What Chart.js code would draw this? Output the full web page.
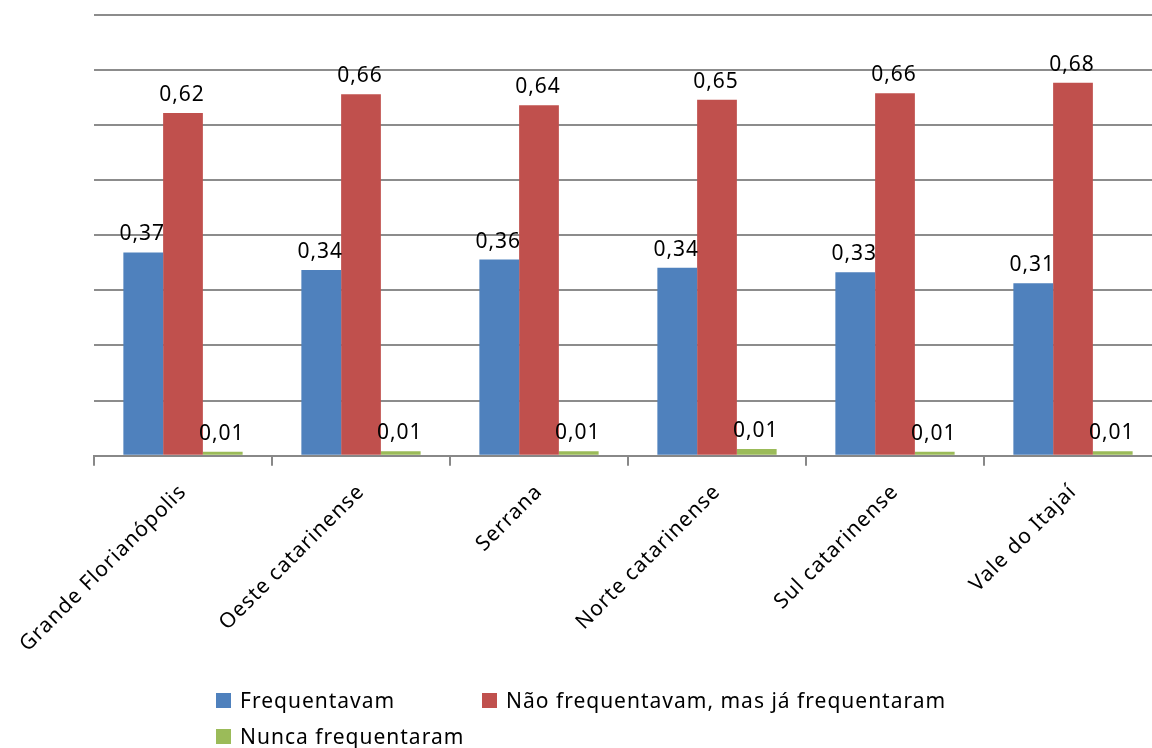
<!DOCTYPE html>
<html>
    <head>
        <meta charset="utf-8">
        <script src="https://cdn.jsdelivr.net/npm/chart.js@4.4.1/dist/chart.umd.min.js"></script>
        <style>
            body { margin: 0; overflow: hidden; background: #fff; font-family: "Noto Sans", sans-serif; }
            #wrap { position: absolute; left: 0; top: 0; width: 1170px; height: 748px; }
            #legend { position: absolute; left: 216px; top: 688px; font-size: 21px; letter-spacing: 1px; color: #000; width: 900px; }
            .item { position: absolute; white-space: nowrap; display: flex; align-items: center; height: 24px; line-height: 24px; }
            .box { display: inline-block; width: 15px; height: 15px; margin-right: 9px; }
        </style>
    </head>
    <body>
        <div id="wrap">
            <canvas id="myChart" width="1170" height="748"></canvas>
        </div>
        <div id="legend"></div>

        <script>
            const CATEGORIES = ['Grande Florianópolis', 'Oeste catarinense', 'Serrana', 'Norte catarinense', 'Sul catarinense', 'Vale do Itajaí'];
            const SERIES_NAMES = ['Frequentavam', 'Não frequentavam, mas já frequentaram', 'Nunca frequentaram'];
            const FREQUENTAVAM = [0.369, 0.337, 0.356, 0.341, 0.333, 0.313];
            const NAO_FREQUENTAVAM = [0.622, 0.656, 0.636, 0.646, 0.658, 0.677];
            const NUNCA = [0.007, 0.008, 0.008, 0.012, 0.007, 0.008];
            const COLORS = ['#4F81BD', '#C0504D', '#9BBB59'];

            const FONT = '"Noto Sans", sans-serif';

            // the original text is a bit spaced out
            const spacing = {
                id: 'spacing',
                beforeLayout(chart) { chart.ctx.letterSpacing = '1px'; },
                beforeDraw(chart) { chart.ctx.letterSpacing = '1px'; }
            };

            // value labels above each bar, with a decimal comma
            const valueLabels = {
                id: 'valueLabels',
                afterDatasetsDraw(chart) {
                    const ctx = chart.ctx;
                    ctx.save();
                    ctx.font = '21px ' + FONT;
                    ctx.letterSpacing = '1px';
                    ctx.fillStyle = '#000';
                    ctx.textAlign = 'center';
                    ctx.textBaseline = 'alphabetic';
                    chart.data.datasets.forEach((ds, i) => {
                        chart.getDatasetMeta(i).data.forEach((bar, j) => {
                            let txt = ds.data[j].toFixed(2).replace('.', ',');
                            ctx.fillText(txt, bar.x - 1, bar.y - 12);
                        });
                    });
                    ctx.restore();
                }
            };

            const seriesData = [FREQUENTAVAM, NAO_FREQUENTAVAM, NUNCA];

            let chart = new Chart(document.getElementById('myChart'), {
                type: 'bar',
                data: {
                    labels: CATEGORIES,
                    datasets: SERIES_NAMES.map((name, i) => ({
                        label: name,
                        data: seriesData[i],
                        backgroundColor: COLORS[i],
                        categoryPercentage: 0.67,
                        barPercentage: 1.0,
                    })),
                },
                options: {
                    responsive: false,
                    animation: false,
                    layout: { padding: { left: 94, right: 8, top: 15, bottom: 77 } },
                    plugins: {
                        legend: { display: false },
                        tooltip: { enabled: false },
                    },
                    scales: {
                        x: {
                            grid: { offset: true, drawOnChartArea: false, color: '#888', lineWidth: 2, tickLength: 10 },
                            border: { color: '#888', width: 2 },
                            ticks: { color: '#000', font: { family: FONT, size: 21 }, minRotation: 45, maxRotation: 45, padding: 14 },
                        },
                        y: {
                            min: 0,
                            max: 0.8,
                            ticks: { display: false, stepSize: 0.1 },
                            grid: { color: '#8c8c8c', lineWidth: 2, drawTicks: false },
                            border: { display: false },
                        },
                    },
                },
                plugins: [spacing, valueLabels],
            });

            // legend laid out like the original: two columns, wrapped
            const legend = document.getElementById('legend');
            const spots = [[0, 0], [266, 0], [0, 36]];
            SERIES_NAMES.forEach((name, i) => {
                let el = document.createElement('div');
                el.className = 'item';
                el.style.left = spots[i][0] + 'px';
                el.style.top = spots[i][1] + 'px';
                el.innerHTML = '<span class="box" style="background:' + COLORS[i] + '"></span>' + name;
                legend.appendChild(el);
            });
        </script>
    </body>
</html>
